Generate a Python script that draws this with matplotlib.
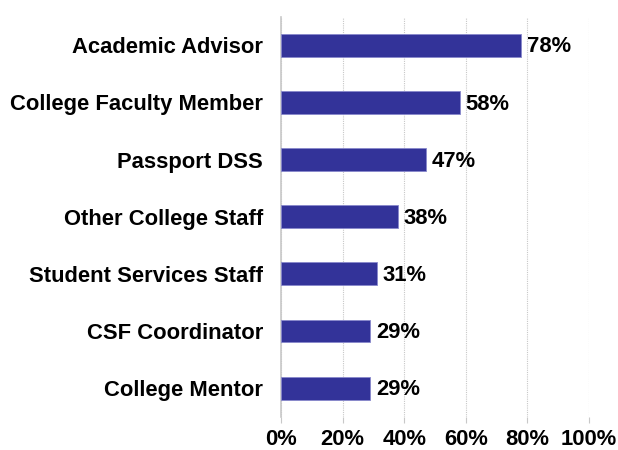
import matplotlib
matplotlib.use("Agg")
import matplotlib.pyplot as plt

# Daten
categories = ["Academic Advisor", "College Faculty Member", "Passport DSS",
              "Other College Staff", "Student Services Staff", "CSF Coordinator",
              "College Mentor"]
values = [78, 58, 47, 38, 31, 29, 29]
xticks = [0, 20, 40, 60, 80, 100]

plt.rcParams["font.family"] = ["Liberation Sans", "DejaVu Sans"]
fs = 15.8

fig = plt.figure(figsize=(6.18, 4.5), dpi=100)
ax = fig.add_axes([0.4547, 0.074, 0.4985, 0.889])

pos = list(range(len(categories)))[::-1]
ax.barh(pos, values, height=0.4, color="#333399", edgecolor="#8888cc", linewidth=0.6, zorder=3)

# Werte neben den Balken
for p, v in zip(pos, values):
    ax.text(v + 1.8, p - 0.03, f"{v}%", va="center", ha="left", fontsize=fs, fontweight="bold")

ax.set_xlim(0, 100)
ax.set_ylim(-0.5, len(categories) - 0.5)
ax.set_yticks(pos)
ax.set_yticklabels(categories, fontsize=fs, fontweight="bold")
ax.set_xticks(xticks)
ax.set_xticklabels([f"{t}%" for t in xticks], fontsize=fs, fontweight="bold")

ax.xaxis.grid(True, linestyle=(0, (1, 1)), color="#c8c8c8", linewidth=0.8, zorder=0)
for s in ["top", "right", "bottom"]:
    ax.spines[s].set_visible(False)
ax.spines["left"].set_color("#c8c8c8")
ax.spines["left"].set_linewidth(1.2)
ax.tick_params(axis="y", length=0, pad=13)
ax.tick_params(axis="x", length=4, color="#c8c8c8", pad=4.5)

fig.savefig("out.png", dpi=100)
